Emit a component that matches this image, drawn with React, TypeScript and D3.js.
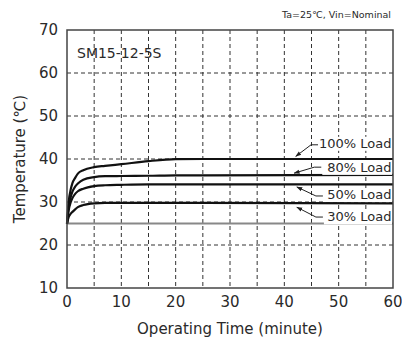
import React from "react";
import * as d3 from "d3";

const times = [0, 0.3, 0.7, 1, 1.5, 2, 3, 5, 7, 10, 15, 20, 25, 60];
const load100 = [25, 30, 33, 34.4, 35.6, 36.6, 37.4, 38.1, 38.4, 38.8, 39.5, 39.95, 40, 40];
const load80 = [25, 28.8, 31.2, 32.4, 33.6, 34.3, 35.2, 35.8, 36.0, 36.05, 36.1, 36.2, 36.2, 36.3];
const load50 = [25, 28, 30, 30.9, 31.9, 32.5, 33.1, 33.7, 33.9, 34.0, 34.1, 34.1, 34.1, 34.1];
const load30 = [25, 26.5, 27.3, 27.7, 28.3, 28.8, 29.3, 29.7, 29.8, 29.8, 29.8, 29.8, 29.8, 29.7];
const ambientTimes = [0, 60];
const ambient = [25, 25];

const seriesNames = ["100% Load", "80% Load", "50% Load", "30% Load"];
const seriesValues = [load100, load80, load50, load30];
// label annotation: text baseline temp, leader start (t, temp), arrow tip (t, temp)
const labelTemps = [42.6, 37.0, 30.7, 25.5];
const leaderStartT = [46.2, 46.8, 47.1, 47.1];
const leaderStartTemp = [43.3, 38.1, 31.4, 26.5];
const tipT = [42.1, 41.8, 42.3, 42.3];
const tipTemp = [40.6, 36.7, 33.5, 28.8];

const xTicks = [0, 10, 20, 30, 40, 50, 60];
const yTicks = [10, 20, 30, 40, 50, 60, 70];
const xGrid = [5, 10, 15, 20, 25, 30, 35, 40, 45, 50, 55];
const yGrid = [20, 30, 40, 50, 60];

const W = 402, H = 342;
const FONT = "DejaVu Sans, sans-serif";
const TXT = "#2a2a2a";

export default function App() {
  const x = d3.scaleLinear().domain([0, 60]).range([67, 393]);
  const y = d3.scaleLinear().domain([10, 70]).range([288, 30]);
  const line = d3
    .line<[number, number]>()
    .x((d) => x(d[0]))
    .y((d) => y(d[1]))
    .curve(d3.curveMonotoneX);

  return (
    <svg width={W} height={H} style={{ position: "absolute", left: 0, top: 0, background: "#fff" }}>
      <defs>
        <marker id="arr" viewBox="0 0 10 10" refX="9" refY="5" markerWidth="6" markerHeight="6" orient="auto">
          <path d="M0,1.5 L10,5 L0,8.5 Z" fill="#222" />
        </marker>
      </defs>
      <rect x={0} y={0} width={W} height={H} fill="#fff" />
      {xGrid.map((t) => (
        <line key={"gx" + t} x1={x(t)} x2={x(t)} y1={y(70)} y2={y(10)} stroke="#333" strokeWidth={1} strokeDasharray="4,3" />
      ))}
      {yGrid.map((v) => (
        <line key={"gy" + v} x1={x(0)} x2={x(60)} y1={y(v)} y2={y(v)} stroke="#333" strokeWidth={1} strokeDasharray="4,3" />
      ))}
      <path d={line(ambientTimes.map((t, i) => [t, ambient[i]]) as any) || ""} fill="none" stroke="#888" strokeWidth={2} />
      {seriesValues.map((vals, si) => (
        <path
          key={"s" + si}
          d={line(times.map((t, i) => [t, vals[i]]) as any) || ""}
          fill="none"
          stroke="#111"
          strokeWidth={2.2}
        />
      ))}
      <rect x={x(0)} y={y(70)} width={x(60) - x(0)} height={y(10) - y(70)} fill="none" stroke="#444" strokeWidth={1.5} />
      {seriesNames.map((name, i) => {
        const bx = x(leaderStartT[i]) + 1;
        const by = y(labelTemps[i]);
        const sx = x(leaderStartT[i]);
        const sy = y(leaderStartTemp[i]);
        return (
          <g key={"l" + i}>
            <rect x={bx} y={by - 11} width={x(60) - 1 - bx} height={14} fill="#fff" />
            <text x={x(60) - 1.5} y={by} textAnchor="end" fontFamily={FONT} fontSize={13} fill={TXT}>
              {name}
            </text>
            <path
              d={`M${sx},${sy} L${sx - 7},${sy} L${x(tipT[i])},${y(tipTemp[i])}`}
              fill="none"
              stroke="#222"
              strokeWidth={1}
              markerEnd="url(#arr)"
            />
          </g>
        );
      })}
      {yTicks.map((v) => (
        <text key={"yt" + v} x={58} y={y(v)} dy="0.36em" textAnchor="end" fontFamily={FONT} fontSize={15} fill={TXT}>
          {v}
        </text>
      ))}
      {xTicks.map((t) => (
        <text key={"xt" + t} x={x(t)} y={302} dy="0.36em" textAnchor="middle" fontFamily={FONT} fontSize={15} fill={TXT}>
          {t}
        </text>
      ))}
      <text x={(x(0) + x(60)) / 2} y={329} dy="0.36em" textAnchor="middle" fontFamily={FONT} fontSize={15} fill={TXT}>
        Operating Time (minute)
      </text>
      <text
        transform={`translate(20,${(y(10) + y(70)) / 2}) rotate(-90)`}
        dy="0.36em"
        textAnchor="middle"
        fontFamily={FONT}
        fontSize={15}
        fill={TXT}
      >
        Temperature (℃)
      </text>
      <text x={77} y={53} dy="0.36em" fontFamily={FONT} fontSize={14} fill={TXT}>
        SM15-12-5S
      </text>
      <text x={391} y={15} dy="0.36em" textAnchor="end" fontFamily={FONT} fontSize={9.5} fill={TXT}>
        Ta=25℃, Vin=Nominal
      </text>
    </svg>
  );
}
